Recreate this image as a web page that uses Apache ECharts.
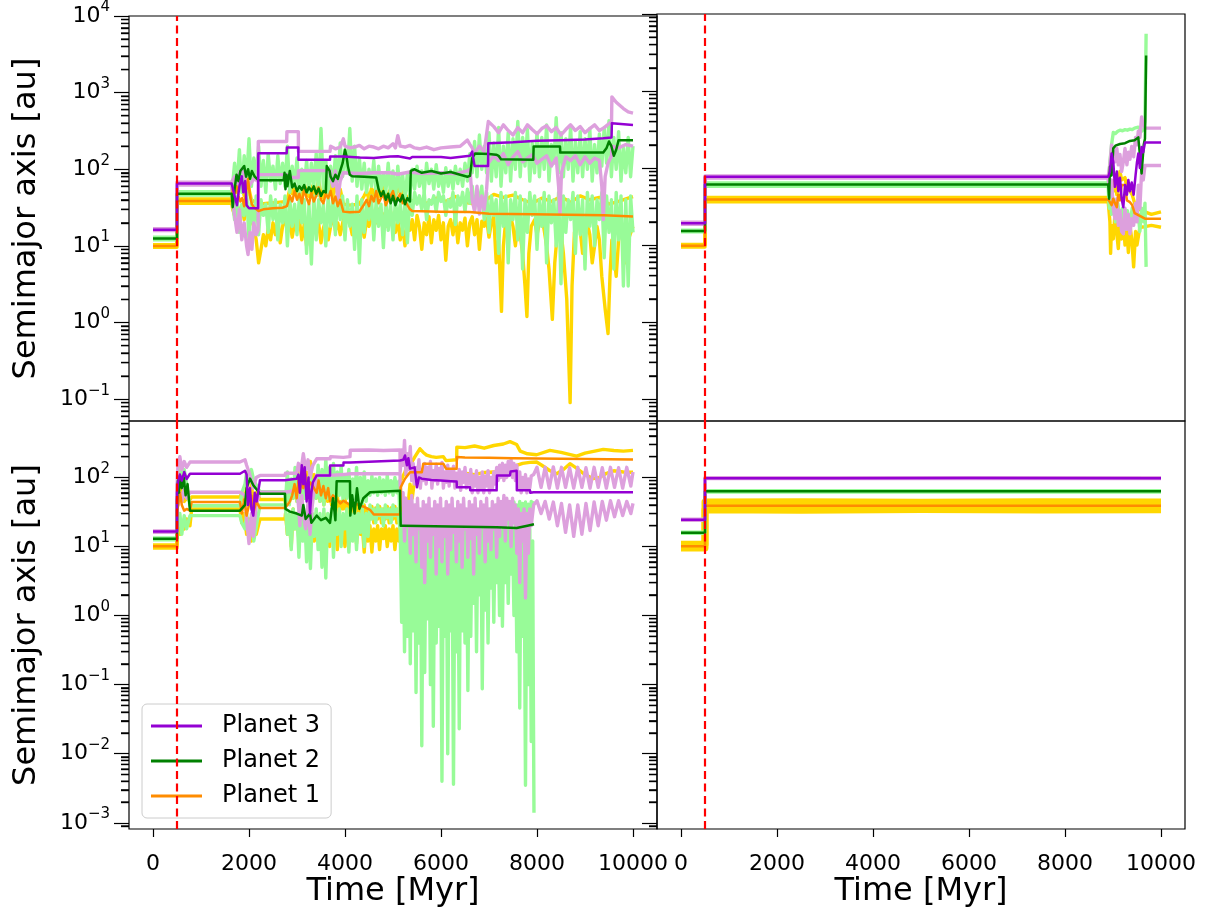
<!DOCTYPE html>
<html><head><meta charset="utf-8">
<script src="https://cdn.jsdelivr.net/npm/echarts@6/dist/echarts.min.js"></script>
<style>html,body{margin:0;padding:0;background:#fff}#c{width:1207px;height:912px}</style>
</head><body><div id="c"></div>
<script>
// ---------- tick labels / texts ----------
const X_TICKS = [0, 2000, 4000, 6000, 8000, 10000];
const Y_EXP_TOP = [-1, 0, 1, 2, 3, 4];
const Y_EXP_BOTTOM = [-3, -2, -1, 0, 1, 2];
const MINOR_MANTISSAS = [2, 3, 4, 5, 6, 7, 8, 9];
const LEGEND_NAMES = ['Planet 3', 'Planet 2', 'Planet 1'];
const Y_TITLE = 'Semimajor axis [au]';
const X_TITLE = 'Time [Myr]';
const EPOCH_MARK = 500;

// Data: [time Myr, value au]. Densely sampled stretches are given as
// {start, step, values}: outputs every `step` Myr from `start`.

// ---------- TOP-LEFT panel ----------
const TL_P3_A = [[0,16.3],[500,16.3],[500,65],[1640,65],[1650,62],[1700,45],[1750,34],[1800,60],[1850,81],[1880,50],[1920,70],[1950,34],[2000,31],[2100,31],[2190,31],[2194,162],[2785,162],[2790,192],[3028,192],[3030,133],[3688,133],[3690,147],[3966,147],[3970,140],[4300,142],[4600,140],[4937,147],[5100,148],[5354,138],[5400,145],[6000,145],[6200,140],[6604,150],[6650,170],[6700,110],[6980,110],[6986,219],[7500,225],[8000,235],[8500,240],[9000,245],[9380,254],[9553,260],[9560,398],[10000,378]];
const TL_P3_APO = [[0,16.8],[500,16.8],[500,68],[1640,68],[1700,80],[1750,60],[1800,90],[1850,100],[1900,85],[1950,70],[2000,60],[2100,75],[2190,70],[2194,230],[2785,230],[2790,310],[3028,310],[3030,171],[3688,171],[3700,200],[3800,185],[3900,195],[3966,250],[4000,200],[4100,190],[4200,195],[4300,205],[4400,185],[4500,200],[4600,195],[4700,185],[4800,200],[4900,190],[5000,215],[5050,190],[5100,275],[5150,200],[5250,195],[5350,205],[5450,190],[5550,185],[5700,195],[5850,180],[6000,190],[6200,195],[6400,200],[6550,240],[6604,210],[6650,190],[6700,160],[6800,200],[6900,170],[6986,420],[7100,360],[7200,300],[7300,380],[7400,320],[7500,280],[7600,350],[7700,300],[7800,380],[7900,330],[8000,290],[8100,340],[8200,370],[8300,310],[8400,350],[8500,280],[8600,330],[8700,380],[8800,320],[8900,360],[9000,300],[9100,340],[9200,380],[9300,320],[9400,350],[9553,420],[9560,880],[9650,750],[9800,620],[9900,560],[10000,540]];
const TL_P3_PERI = [[0,15.8],[500,15.8],[500,62],[1640,62],[1660,40],[1700,25],[1750,15],[1800,30],[1850,12],[1900,20],[1950,10],[1980,7.7],[2020,15],[2060,9],[2100,20],[2150,14],[2190,16],[2194,85],[2785,85],[2790,78],[3028,78],[3030,96],[3688,96],[3700,80],[3750,60],[3800,95],[3850,40],[3900,70],[3966,90],[4300,88],[4600,90],[4937,90],[5100,86],[5354,92],[5600,88],[6000,90],[6300,87],[6550,95],[6604,100],[6650,40],[6700,28],[6750,60],[6800,26],[6850,45],[6900,30],[6950,55],[6986,120],[7100,150],[7200,130],[7300,160],[7400,115],[7500,145],[7600,170],[7700,125],[7800,140],[7900,155],[8000,120],[8100,135],[8200,150],[8300,110],[8400,140],[8450,60],[8479,26],[8510,90],[8600,145],[8700,130],[8800,150],[8900,115],[9000,145],[9100,120],[9200,140],[9300,130],[9350,60],[9380,22],[9420,80],[9480,120],[9553,150],[9560,200],[9700,190],[9850,210],[10000,200]];
const TL_P2_A = [[0,12.5],[500,12.5],[500,48],[1640,48],[1660,32],[1700,55],[1740,85],[1780,70],[1820,95],[1860,90],[1900,110],[1940,80],[1980,100],[2020,75],[2060,95],[2120,80],[2194,72],[2723,72],[2740,90],[2760,55],[2780,85],[2800,60],[2850,95],[2900,58],[2950,65],[3000,52],[3050,60],[3100,54],[3150,62],[3200,50],[3250,58],[3300,52],[3350,60],[3400,48],[3450,56],[3500,45],[3550,52],[3600,50],[3620,110],[3680,95],[3700,80],[3750,70],[3800,85],[3850,75],[3900,95],[3950,120],[4000,180],[4030,150],[4060,110],[4100,85],[4150,81],[4400,80],[4650,78],[4700,55],[4750,45],[4800,52],[4850,40],[4900,48],[4950,36],[5000,45],[5050,34],[5100,42],[5150,38],[5200,46],[5250,35],[5300,42],[5354,38],[5370,95],[5450,100],[5600,90],[5800,95],[6000,88],[6200,92],[6400,85],[6550,80],[6604,82],[6650,140],[6708,160],[7000,158],[7150,155],[7200,150],[7250,135],[7923,133],[7930,198],[8479,198],[8485,165],[9380,165],[9450,190],[9500,230],[9550,200],[9600,150],[9650,180],[9700,240],[10000,240]];
const TL_P2_APO_HEAD = [[0,13],[500,13],[500,51],[1640,51]];
const TL_P2_APO_DENSE = {start:1650, step:50, values:[
  55,120,60,180,50,150,70,250,60,140,80,200,
  60,130,50,160,70,110,55,150,65,120,60,200,
  50,110,60,140,45,100,55,130,50,120,60,160,45,340,55,130,50,110,
  60,150,70,220,80,180,90,340,70,200,60,140,
  55,120,50,100,60,130,45,110,55,90,50,120,45,95,40,110,50,85,40,90,45,100,
  55,110,60,95,50,120,65,100,55,115,60,90,50,105,60,95,55,110,65,100,60,120,70,160,
  90,230,80,280,100,200,90,300,70,220,80,350,60,200,90,300,70,250,100,420,80,260,110,330,70,220,90,300,80,260,100,380,70,210,
  120,470,90,300,80,250,100,360,70,230,90,310,80,250,100,340,70,210,90,290,110,350,120,430,80,260,100,310,70,190,90,260,80,200]};
const TL_P2_PERI_HEAD = [[0,12],[500,12],[500,46],[1640,46]];
const TL_P2_PERI_DENSE = {start:1650, step:50, values:[
  40,22,45,15,35,25,50,12,40,18,45,14,
  40,25,35,15,45,22,40,12,35,20,45,10,
  40,18,35,14,45,20,40,8,35,5.8,45,12,40,20,35,10,45,18,
  40,14,50,22,45,12,40,18,35,9,45,6,
  40,15,35,22,45,12,40,18,35,9.5,40,16,35,12,40,20,35,14,40,11,45,25,
  50,35,45,30,50,22,40,35,45,28,50,38,45,25,40,32,50,19,45,34,50,28,55,36,
  60,30,50,40,60,22,50,15,45,25,40,8,50,18,45,6,40,22,50,12,45,5,40,15,50,25,45,9,40,18,50,6,45,20,
  40,10,50,3.2,45,15,40,22,50,8,45,14,40,5,50,18,45,10,40,22,50,7,45,15,40,5,50,12,45,3,40,3,45,15]};
const TL_P1_A = [[0,10],[500,10],[500,38.5],[1640,38.5],[1660,55],[1700,48],[1740,60],[1780,45],[1820,38],[1860,42],[1900,33],[1940,50],[1980,75],[2020,45],[2060,35],[2100,32],[2200,28.5],[2300,30],[2500,31],[2700,31.5],[2790,33],[2850,45],[2900,38],[2950,52],[3000,40],[3050,48],[3100,36],[3150,55],[3200,42],[3250,35],[3300,50],[3350,38],[3400,45],[3450,58],[3500,40],[3550,36],[3600,48],[3650,42],[3700,52],[3750,36],[3800,44],[3850,33],[3900,40],[3966,28],[4100,27.5],[4300,28],[4400,35],[4450,40],[4500,33],[4550,45],[4600,38],[4650,52],[4700,36],[4750,42],[4800,48],[4850,34],[4900,40],[4950,45],[5000,52],[5050,38],[5100,42],[5150,48],[5200,36],[5250,40],[5300,34],[5354,30],[5400,28.5],[6000,28],[6600,27.6],[7000,26.3],[7900,25.8],[9400,25.2],[10000,24.2]];
const TL_P1_APO = [[0,10.4],[500,10.4],[500,41],[1640,41],[1700,70],[1750,50],[1800,85],[1850,60],[1900,45],[1950,90],[2000,55],[2050,40],[2100,38],[2200,35],[2400,36],[2600,37],[2790,38],[2850,55],[2900,48],[2950,62],[3000,45],[3050,58],[3100,42],[3150,66],[3200,50],[3250,44],[3300,60],[3350,46],[3400,55],[3450,70],[3500,48],[3550,42],[3600,58],[3650,50],[3700,65],[3750,44],[3800,85],[3850,40],[3900,55],[3966,35],[4100,34],[4300,35],[4400,45],[4450,52],[4500,40],[4550,56],[4600,46],[4650,62],[4700,44],[4750,50],[4800,58],[4850,42],[4900,48],[4950,55],[5000,64],[5050,46],[5100,52],[5150,60],[5200,44],[5250,48],[5300,42],[5354,38],[5500,40],[5700,36],[5900,42],[6100,38],[6300,44],[6500,37],[6700,35],[6900,38],[7100,47],[7300,43],[7500,46],[7700,40],[7900,36],[8100,42],[8300,38],[8500,44],[8700,37],[8900,45],[9100,40],[9300,43],[9500,35],[9700,38],[9900,42],[10000,44]];
const TL_P1_PERI = [[0,9.6],[500,9.6],[500,36],[1640,36],[1660,30],[1700,25],[1750,35],[1800,28],[1850,32],[1900,22],[1950,30],[2000,26],[2050,22],[2100,18],[2150,12],[2200,6],[2250,9],[2300,14],[2350,10],[2400,17],[2450,12],[2500,20],[2550,14],[2600,22],[2650,11],[2700,18],[2750,24],[2800,15],[2850,21],[2900,13],[2950,20],[3000,16],[3050,22],[3100,12],[3150,19],[3200,10],[3250,17],[3300,22],[3350,15],[3400,25],[3450,20],[3500,11],[3550,17],[3600,22],[3650,12],[3700,18],[3750,25],[3800,16],[3850,20],[3900,14],[3966,22],[4000,18],[4050,26],[4100,20],[4150,14],[4200,22],[4250,18],[4300,25],[4350,19],[4400,13],[4450,22],[4500,18],[4550,24],[4600,28],[4650,20],[4700,30],[4750,22],[4800,26],[4850,18],[4900,24],[4950,28],[5000,20],[5050,15],[5100,22],[5150,12],[5200,18],[5250,10],[5300,20],[5354,16],[5400,22],[5450,12],[5500,25],[5550,18],[5600,9],[5650,20],[5700,14],[5750,24],[5800,11],[5850,22],[5900,16],[5950,25],[6000,12],[6050,20],[6100,6.5],[6150,18],[6200,22],[6250,14],[6300,25],[6350,11],[6400,20],[6450,16],[6500,23],[6550,10],[6600,20],[6650,24],[6700,14],[6750,22],[6800,9],[6850,21],[6900,18],[6950,23],[7000,13],[7050,20],[7100,24],[7150,6],[7200,12],[7260,1.4],[7300,10],[7350,22],[7400,15],[7450,24],[7500,18],[7550,10],[7600,20],[7650,14],[7700,8],[7750,3],[7790,1.2],[7830,8],[7880,18],[7950,22],[8000,14],[8050,20],[8100,24],[8150,16],[8200,10],[8250,5],[8320,1.1],[8370,6],[8420,14],[8480,20],[8550,8],[8620,2],[8690,0.09],[8730,3],[8780,15],[8850,22],[8900,16],[8950,8],[9000,12],[9050,20],[9100,14],[9150,6],[9200,10],[9250,18],[9300,12],[9350,4],[9420,1.5],[9480,0.72],[9520,4],[9560,12],[9600,8],[9650,4],[9700,12],[9750,20],[9800,14],[9850,6],[9900,12],[10000,18]];

// ---------- TOP-RIGHT panel ----------
const TR_P3_A = [[0,19.2],[500,19.2],[500,77],[8900,77],[8936,90],[8970,154],[9006,120],[9040,57],[9080,90],[9110,50],[9145,75],[9180,40],[9215,31],[9250,60],[9290,45],[9320,70],[9353,50],[9390,65],[9430,45],[9470,80],[9500,120],[9527,154],[9560,100],[9596,188],[9630,160],[9666,215],[10000,215]];
const TR_P3_APO = [[0,19.8],[500,19.8],[500,79],[8900,79],[8936,110],[8970,200],[9006,160],[9040,120],[9080,180],[9110,110],[9145,150],[9180,90],[9215,120],[9250,180],[9290,110],[9320,160],[9353,130],[9390,190],[9430,140],[9470,250],[9500,200],[9527,300],[9560,250],[9596,460],[9630,380],[9666,330],[10000,330]];
const TR_P3_PERI = [[0,18.6],[500,18.6],[500,74],[8900,74],[8936,45],[8970,70],[9006,30],[9040,22],[9080,40],[9110,18],[9145,28],[9180,15],[9215,14],[9250,30],[9290,16],[9320,25],[9353,14],[9390,22],[9430,18],[9470,35],[9500,20],[9527,60],[9560,30],[9596,90],[9630,70],[9666,108],[10000,108]];
const TR_P2_A = [[0,15.2],[500,15.2],[500,61],[8900,61],[8920,40],[8936,104],[8970,80],[9006,180],[9050,195],[9145,205],[9250,210],[9353,225],[9450,230],[9527,250],[9560,255],[9596,85],[9640,200],[9666,240],[9680,230],[9690,2890]];
const TR_P2_APO = [[0,15.6],[500,15.6],[500,64],[8900,64],[8936,120],[8970,200],[9006,290],[9050,280],[9100,300],[9145,310],[9200,305],[9250,315],[9300,310],[9353,320],[9400,315],[9450,330],[9527,340],[9560,342],[9596,300],[9640,320],[9666,400],[9690,5540]];
const TR_P2_PERI = [[0,14.8],[500,14.8],[500,58],[8900,58],[8920,30],[8936,50],[8970,25],[9006,40],[9050,20],[9100,35],[9145,22],[9200,30],[9250,16],[9300,28],[9353,18],[9400,30],[9450,20],[9527,25],[9560,15],[9596,30],[9640,20],[9666,35],[9690,5.2]];
const TR_P1_A = [[0,9.8],[500,9.8],[500,39],[8900,39],[8936,36],[8970,33],[9006,40],[9040,35],[9080,31],[9110,45],[9145,38],[9180,60],[9250,60],[9290,38],[9353,36],[9400,33],[9450,26],[9500,25],[9666,22],[10000,22]];
const TR_P1_APO = [[0,10.2],[500,10.2],[500,41.5],[8900,41.5],[8936,45],[8970,60],[9006,50],[9040,70],[9080,45],[9145,90],[9180,70],[9250,75],[9290,55],[9353,50],[9400,45],[9450,35],[9500,30],[9596,28],[9666,27],[9800,25],[10000,27]];
const TR_P1_PERI = [[0,9.4],[500,9.4],[500,36.5],[8900,36.5],[8936,20],[8950,7.8],[8970,18],[9006,12],[9040,25],[9080,14],[9110,9],[9145,20],[9180,12],[9215,22],[9250,10],[9290,15],[9320,8],[9353,18],[9390,12],[9430,5.2],[9470,15],[9500,10],[9560,17],[9666,17.3],[9800,18],[10000,17]];

// ---------- BOTTOM-LEFT panel ----------
const BL_P3_A = [[0,16.5],[500,16.5],[500,60],[520,85],[560,110],[600,90],[650,120],[700,95],[770,113],[1812,113],[1850,120],[1917,125],[1950,110],[1980,40],[2020,70],[2050,35],[2090,28],[2120,60],[2160,45],[2229,91],[2750,91],[2760,96],[2993,96],[3030,110],[3060,60],[3100,150],[3130,80],[3160,140],[3200,45],[3240,100],[3271,30],[3300,60],[3330,85],[3410,107],[3688,107],[3690,149],[3966,149],[3970,165],[4104,165],[4110,176],[5146,176],[5215,180],[5250,208],[5290,150],[5320,190],[5354,134],[5450,140],[5500,72],[5540,100],[5600,96],[5800,92],[6000,90],[6200,88],[6326,87],[6330,72],[6604,72],[6610,65],[7159,65],[7165,107],[7437,107],[7450,122],[7576,125],[7580,65],[7854,65],[7860,60],[7930,61],[10000,61]];
const BL_P3_APO_HEAD = [[0,16.8],[500,16.8],[500,70],[520,150],[560,200],[600,130],[650,170],[700,140],[770,167],[1812,167],[1850,175],[1917,180],[1950,150],[2000,120],[2050,90],[2090,70],[2150,100],[2229,107],[2750,107],[2760,115],[2993,115],[3030,160],[3080,120],[3132,220],[3180,130],[3230,180],[3271,100],[3330,150],[3410,186],[3688,186],[3700,200],[3966,195],[4104,200],[4110,247],[4500,250],[4800,245],[5146,250]];
const BL_P3_APO_DENSE = {start:5150, step:30, values:[
  120,250,150,344,110,220,130,280,90,160,80,140,100,180,70,130,90,160,80,140,100,170,70,125,90,155,80,135,95,165,70,120,
  85,150,75,130,90,145,70,115,80,130,65,120,85,140,70,110,80,130,60,105,75,125,60,100,70,120,60,105,75,125,60,100,
  70,120,80,140,90,150,100,160,90,150,100,170,110,180,100,160,90,150,70,120,60,100,70,110,60,95,70,105]};
const BL_P3_APO_TAIL = [[7930,110],[8000,140],[8085,72],[8170,140],[8255,70],[8340,142],[8425,70],[8510,140],[8595,72],[8680,138],[8765,70],[8850,140],[8935,72],[9020,138],[9105,70],[9190,140],[9275,72],[9360,138],[9445,70],[9530,140],[9615,72],[9700,138],[9785,70],[9870,140],[9955,75],[10000,120]];
const BL_P3_PERI_HEAD = [[0,16.1],[500,16.1],[500,50],[520,40],[560,60],[600,45],[650,70],[700,50],[770,61],[1812,61],[1850,58],[1917,55],[1950,25],[2000,11],[2050,30],[2090,14],[2150,40],[2229,61],[2750,61],[2760,65],[2993,65],[3030,40],[3060,20],[3100,55],[3132,30],[3180,18],[3230,45],[3271,15],[3330,50],[3410,107],[3688,107],[3690,110],[3966,110],[4104,113],[5146,113]];
const BL_P3_PERI_DENSE = {start:5150, step:30, values:[
  80,40,60,12,50,20,45,8,55,15,40,6,50,18,35,5,45,3,40,12,50,7,35,15,45,4,40,10,50,6,35,14,
  45,4,40,9,50,16,35,6,45,12,40,5,50,18,35,7,45,13,40,4,50,15,35,8,45,20,40,6,50,12,35,9,
  45,18,40,7,50,14,45,20,55,12,50,25,45,10,50,22,40,8,35,3,30,12,35,1.8,30,8,35,20]};
const BL_P3_PERI_TAIL = [[7930,40],[8000,46],[8085,30],[8170,45],[8255,25],[8340,44],[8425,20],[8510,42],[8595,16],[8680,40],[8765,14],[8850,40],[8935,15],[9020,42],[9105,17],[9190,44],[9275,20],[9360,45],[9445,24],[9530,46],[9615,27],[9700,46],[9785,28],[9870,45],[9955,30],[10000,42]];
const BL_P2_A = [[0,12.9],[500,12.9],[500,45],[520,90],[540,60],[562,107],[600,70],[640,100],[680,55],[720,80],[770,33],[1812,33],[1850,35],[1917,40],[1950,70],[2021,96],[2090,77],[2229,58],[2750,58],[2760,35],[2854,32],[2993,30],[3100,28],[3132,40],[3180,25],[3271,30],[3300,22],[3410,28],[3500,24],[3600,26],[3688,22],[3750,50],[3800,24],[3826,88],[4104,88],[4110,28],[4150,55],[4200,30],[4250,70],[4300,35],[4382,50],[4521,61],[5146,64],[5160,20],[5215,20],[7159,19],[7576,18.5],[7650,19],[7800,20],[7937,21]];
const BL_P2_APO_HEAD = [[0,13.3],[500,13.3],[500,50],[520,110],[560,150],[600,90],[650,130],[700,80],[770,39],[1812,39],[1850,60],[1917,80],[1950,119],[2000,100],[2050,130],[2100,90],[2229,62],[2750,62]];
const BL_P2_APO_DENSE1 = {start:2760, step:40, values:[
  45,120,40,95,50,140,45,110,40,130,50,100,45,125,40,90,50,150,45,130,40,186,50,140,45,160,50,120,55,149,
  45,110,50,130,45,95,50,140,45,100,40,120,45,90,55,105,60,95,55,100,60,92,55,107,60,90,55,100,60,88]};
const BL_P2_APO_DENSE2 = {start:5150, step:30, values:[
  18,30,20,38,17,28,21,35,18,32,20,40,17,27,19,33,18,30,21,36,17,28,20,34,18,31,22,39,17,27,20,35,
  18,30,21,37,17,28,19,32,18,30,20,36,17,27,21,34,18,31,20,38,17,28,19,33,18,30,21,36,17,28,20,35,
  18,31,22,40,17,29,20,34,18,30,21,45,19,38,22,44,20,40,22,45,19,42,21,44,20,41,22,45]};
const BL_P2_APO_TAIL = [[7910,42],[7937,45]];
const BL_P2_PERI_HEAD = [[0,12.5],[500,12.5],[500,35],[520,20],[560,30],[600,15],[650,28],[700,18],[770,28],[1812,28],[1850,22],[1917,18],[1950,30],[2000,14],[2050,25],[2100,12],[2229,40],[2750,40]];
const BL_P2_PERI_DENSE1 = {start:2760, step:40, values:[
  35,15,30,9,35,18,30,7,35,12,30,6,35,4.8,30,14,35,9,30,5,35,3.5,30,12,35,7,30,15,35,10,
  30,18,35,8.3,30,12,35,9,30,16,35,10,30,14,40,25,35,22,40,28,35,20,40,26,35,22,40,28,35,24]};
const BL_P2_PERI_DENSE2 = {start:5150, step:30, values:[
  18,0.8,20,0.3,17,0.5,19,0.2,20,0.6,18,0.077,19,0.4,17,0.013,20,0.15,18,0.9,19,0.1,17,0.025,20,0.4,18,0.7,19,0.004,17,0.5,
  20,0.01,18,0.6,19,0.0036,17,0.3,20,0.023,18,0.6,19,0.4,17,0.082,20,0.5,18,1.5,19,0.3,17,2,20,0.087,18,1.2,19,0.4,17,2.5,
  20,0.8,18,3,19,1,17,0.7,20,3,18,1.5,19,4,17,1,20,0.3,18,0.046,19,0.5,17,0.0035,20,0.1,18,0.015]};
const BL_P2_PERI_TAIL = [[7910,12],[7925,0.05],[7937,0.0014]];
const BL_P1_A = [[0,10.1],[500,10.1],[500,33],[520,38],[562,60],[600,40],[650,33],[700,35],[770,33],[806,44],[1812,44],[1850,30],[1900,48],[1950,28],[2000,40],[2050,55],[2090,30],[2150,45],[2229,36],[2750,36],[2800,40],[2854,45],[2900,55],[2950,80],[2993,50],[3030,90],[3060,60],[3100,100],[3132,70],[3180,110],[3230,65],[3271,85],[3330,75],[3410,60],[3450,90],[3500,55],[3550,75],[3600,50],[3650,70],[3688,45],[3750,55],[3826,48],[3900,42],[3966,46],[4104,40],[4200,42],[4382,38],[4450,36],[4521,34],[4600,29],[5146,29],[5160,72],[5250,96],[5354,119],[5600,119],[5631,158],[6048,158],[6104,134],[6326,134],[6330,197],[6500,195],[7000,193],[7500,190],[8000,188],[8500,186],[9000,185],[9500,183],[10000,182]];
const BL_P1_APO_HEAD = [[0,10.5],[500,10.5],[500,40],[520,50],[562,80],[600,55],[650,45],[700,50],[770,48],[806,52],[1812,52],[1850,60],[1900,45],[1950,70],[2000,50],[2050,80],[2090,45],[2150,60],[2229,48],[2750,48]];
const BL_P1_APO_DENSE = {start:2760, step:40, values:[
  40,60,45,80,50,100,45,130,55,150,50,120,45,170,55,110,50,90,45,77,40,70,45,75,40,60,35,55,30,45,
  35,50,30,40,28,38,30,42,28,36,30,40,25,35,25,38,22,36,25,38,22,35,25,38,22,36,25,38,22,35]};
const BL_P1_APO_TAIL = [[5146,38],[5160,90],[5250,120],[5300,160],[5354,150],[5458,200],[5562,260],[5631,230],[5700,210],[5800,200],[5900,195],[6048,200],[6104,175],[6326,180],[6330,275],[6500,270],[6700,285],[6900,265],[7100,290],[7300,305],[7437,330],[7576,300],[7650,240],[7800,220],[7992,213],[8270,246],[8500,230],[8826,204],[9000,225],[9381,255],[9600,245],[9800,240],[10000,246]];
const BL_P1_PERI_HEAD = [[0,9.5],[500,9.5],[500,25],[520,20],[562,15],[600,22],[650,18],[700,25],[770,20],[806,35],[1812,35],[1850,22],[1900,30],[1950,15],[2000,25],[2050,12],[2090,20],[2150,15],[2229,25],[2750,25]];
const BL_P1_PERI_DENSE = {start:2760, step:40, values:[
  30,15,25,10,35,18,30,12,35,20,25,11,30,16,25,12,30,14,25,8,30,12,25,10,28,15,25,9,22,14,
  20,10,25,12,22,15,20,11,24,15,20,8.3,22,12,20,8.3,18,12,20,9,18,13,20,10,18,12,20,9,18,12]};
const BL_P1_PERI_TAIL = [[5146,14],[5160,40],[5200,20],[5250,50],[5300,30],[5354,80],[5400,50],[5458,100],[5562,95],[5631,110],[5700,100],[5800,105],[6048,100],[6104,90],[6326,95],[6330,113],[6500,115],[6700,110],[6900,118],[7100,120],[7300,115],[7437,122],[7576,150],[7700,160],[7850,165],[7992,167],[8100,150],[8270,125],[8409,113],[8550,130],[8687,158],[8800,140],[9000,110],[9173,96],[9300,100],[9450,115],[9600,125],[9800,120],[10000,119]];

// ---------- BOTTOM-RIGHT panel ----------
const BR_P3_A = [[0,24.4],[500,24.4],[500,97.7],[3000,97.5],[6000,97.8],[10000,97.6]];
const BR_P3_APO = [[0,24.9],[500,24.9],[500,99.5],[10000,99.5]];
const BR_P3_PERI = [[0,23.9],[500,23.9],[500,96],[10000,96]];
const BR_P2_A = [[0,15.8],[500,15.8],[500,63],[10000,63]];
const BR_P2_APO = [[0,16.1],[500,16.1],[500,64.5],[10000,64.5]];
const BR_P2_PERI = [[0,15.5],[500,15.5],[500,61.5],[10000,61.5]];
const BR_P1_A = [[0,10.1],[500,10.1],[500,39],[10000,39]];
const BR_P1_APO = [[0,10.8],[500,10.8],[500,44],[2500,44.5],[5000,43.8],[7500,44.3],[10000,44]];
const BR_P1_PERI = [[0,9.5],[500,9.5],[500,34],[2500,33.6],[5000,34.2],[7500,33.8],[10000,34]];

// ---------- assembly ----------
const expand = seg => seg.values.map((v, i) => [seg.start + i * seg.step, v]);
const join = (...parts) => [].concat(...parts.map(p => Array.isArray(p) ? p : expand(p)));

const FONT = 'DejaVu Sans';
const C = {p3:'#9400D3', p3l:'#DDA0DD', p2:'#008000', p2l:'#98FB98', p1:'#FF8C00', p1l:'#FFD700'};
const X_MIN = -500, X_MAX = 10500;
const TICK_W = 1.2;

const PANELS = [
  {P3:[TL_P3_A, TL_P3_APO, TL_P3_PERI],
   P2:[TL_P2_A, join(TL_P2_APO_HEAD, TL_P2_APO_DENSE), join(TL_P2_PERI_HEAD, TL_P2_PERI_DENSE)],
   P1:[TL_P1_A, TL_P1_APO, TL_P1_PERI]},
  {P3:[TR_P3_A, TR_P3_APO, TR_P3_PERI], P2:[TR_P2_A, TR_P2_APO, TR_P2_PERI], P1:[TR_P1_A, TR_P1_APO, TR_P1_PERI]},
  {P3:[BL_P3_A, join(BL_P3_APO_HEAD, BL_P3_APO_DENSE, BL_P3_APO_TAIL), join(BL_P3_PERI_HEAD, BL_P3_PERI_DENSE, BL_P3_PERI_TAIL)],
   P2:[BL_P2_A, join(BL_P2_APO_HEAD, BL_P2_APO_DENSE1, BL_P2_APO_DENSE2, BL_P2_APO_TAIL), join(BL_P2_PERI_HEAD, BL_P2_PERI_DENSE1, BL_P2_PERI_DENSE2, BL_P2_PERI_TAIL)],
   P1:[BL_P1_A, join(BL_P1_APO_HEAD, BL_P1_APO_DENSE, BL_P1_APO_TAIL), join(BL_P1_PERI_HEAD, BL_P1_PERI_DENSE, BL_P1_PERI_TAIL)]},
  {P3:[BR_P3_A, BR_P3_APO, BR_P3_PERI], P2:[BR_P2_A, BR_P2_APO, BR_P2_PERI], P1:[BR_P1_A, BR_P1_APO, BR_P1_PERI], band:7}
];

const Y_RANGE = [[-1.285, 4.0], [-1.285, 4.0], [-3.09, 2.817], [-3.09, 2.817]];
// Per grid: yAxis base+0 = data axis (labels + minor ticks), base+1 = powers-of-ten ticks,
// base+2.. = one axis per mantissa k, shifted by log10(k) so that its integer ticks land on k*10^n.
const AXES_PER_GRID = 2 + MINOR_MANTISSAS.length;
const intsIn = (lo, hi) => { const out = []; for (let n = Math.ceil(lo); n <= Math.floor(hi); n++) out.push(n); return out; };
function minorTickValues(lo, hi) {
  const out = [];
  for (let n = -4; n <= 4; n++) for (const k of MINOR_MANTISSAS) {
    const v = Math.log10(k) + n;
    if (v > lo && v < hi) out.push(v);
  }
  return out;
}

const toLog = arr => arr.map(p => [p[0], Math.log10(p[1])]);
function line(name, data, gi, color, width, z) {
  return {type:'line', name, xAxisIndex:gi, yAxisIndex:gi * AXES_PER_GRID, data:toLog(data), symbol:'none', showSymbol:false,
    lineStyle:{color, width, join:'round'}, itemStyle:{color}, z, silent:true, clip:true, animation:false};
}

const LIGHT_W = 3.4, DARK_W = 2.5;
const series = [];
PANELS.forEach((p, gi) => {
  const base = gi * AXES_PER_GRID;
  const [mn] = Y_RANGE[gi];
  const bw = p.band || LIGHT_W;
  series.push(line('P1 apo', p.P1[1], gi, C.p1l, bw, 1));
  series.push(line('P1 peri', p.P1[2], gi, C.p1l, bw, 1));
  series.push(line('P2 apo', p.P2[1], gi, C.p2l, LIGHT_W, 1));
  series.push(line('P2 peri', p.P2[2], gi, C.p2l, LIGHT_W, 1));
  series.push(line('P3 apo', p.P3[1], gi, C.p3l, LIGHT_W, 1));
  series.push(line('P3 peri', p.P3[2], gi, C.p3l, LIGHT_W, 1));
  series.push(line('Planet 1', p.P1[0], gi, C.p1, DARK_W, 2));
  series.push(line('Planet 2', p.P2[0], gi, C.p2, DARK_W, 2));
  series.push(line('Planet 3', p.P3[0], gi, C.p3, DARK_W, 2));
  series.push({type:'line', name:'epoch', xAxisIndex:gi, yAxisIndex:base + 1, data:[], z:3, silent:true,
    markLine:{silent:true, symbol:['none','none'], label:{show:false}, animation:false,
      lineStyle:{color:'#ff0000', width:2.2, type:[8,4.5]}, data:[{xAxis:EPOCH_MARK}]}});
  // one invisible anchor point per shifted axis so the axis has a data extent
  MINOR_MANTISSAS.forEach((k, j) => {
    series.push({type:'line', name:'minor ' + k, xAxisIndex:gi, yAxisIndex:base + 2 + j, silent:true,
      symbol:'none', showSymbol:false, lineStyle:{width:0, opacity:0},
      data:[[X_MIN, mn - Math.log10(k)]]});
  });
});

const GRIDS = [
  {left:129, top:14, width:528, height:407},
  {left:657, top:14, width:528, height:407},
  {left:129, top:421, width:528, height:408},
  {left:657, top:421, width:528, height:408}
].map(g => Object.assign({show:true, borderColor:'#000', borderWidth:1.2, backgroundColor:'transparent'}, g));

const yAxes = [], xAxes = [];
[0,1,2,3].forEach(gi => {
  const top = gi < 2, left = gi % 2 === 0;
  const exps = top ? Y_EXP_TOP : Y_EXP_BOTTOM;
  const [mn, mx] = Y_RANGE[gi];
  yAxes.push({type:'value', gridIndex:gi, min:mn, max:mx, position:'left',
    axisLine:{show:false, onZero:false}, splitLine:{show:false},
    axisTick:{show:true, length:8, lineStyle:{color:'#000', width:TICK_W}, customValues:minorTickValues(mn, mx)},
    axisLabel:{show:left, customValues:exps, margin:19, color:'#000', fontFamily:FONT,
      formatter: v => { const n = Math.round(v); return '{b|10}{s|' + (n < 0 ? '\u2212' + (-n) : n) + '}'; },
      rich:{b:{fontSize:22, fontFamily:FONT, color:'#000', lineHeight:32}, s:{fontSize:15, fontFamily:FONT, color:'#000', verticalAlign:'top'}}},
    name: left ? Y_TITLE : '', nameLocation:'middle', nameRotate:90, nameGap:86,
    nameTextStyle:{fontSize:32, fontFamily:FONT, color:'#000'}});
  yAxes.push({type:'value', gridIndex:gi, min:mn, max:mx, position:'left',
    axisLine:{show:false, onZero:false}, splitLine:{show:false}, axisLabel:{show:false},
    axisTick:{show:true, length:15, lineStyle:{color:'#000', width:TICK_W}, customValues:exps}});
  MINOR_MANTISSAS.forEach(k => {
    const s = Math.log10(k);
    yAxes.push({type:'value', gridIndex:gi, min:mn - s, max:mx - s, position:'left',
      axisLine:{show:false, onZero:false}, splitLine:{show:false}, axisLabel:{show:false},
      axisTick:{show:true, length:8, lineStyle:{color:'#000', width:TICK_W}, customValues:intsIn(mn - s, mx - s)}});
  });
  xAxes.push({type:'value', gridIndex:gi, min:X_MIN, max:X_MAX, position:'bottom',
    axisLine:{show:false, onZero:false}, splitLine:{show:false},
    axisTick:{show:!top, length:8, lineStyle:{color:'#000', width:TICK_W}, customValues:X_TICKS},
    axisLabel:{show:!top, customValues:X_TICKS, fontSize:22, fontFamily:FONT, color:'#000', margin:24, formatter: v => String(v)},
    name: top ? '' : X_TITLE, nameLocation:'middle', nameGap:47,
    nameTextStyle:{fontSize:32, fontFamily:FONT, color:'#000'}});
});

const chart = echarts.init(document.getElementById('c'), null, {renderer:'canvas'});
chart.setOption({
  animation:false,
  backgroundColor:'#fff',
  grid:GRIDS,
  xAxis:xAxes,
  yAxis:yAxes,
  legend:{
    data:LEGEND_NAMES.map(n => ({name:n})), orient:'vertical', left:142, top:704,
    padding:[10,11,10,9], itemGap:11, itemWidth:51, itemHeight:3, icon:'rect',
    textStyle:{fontSize:24, fontFamily:FONT, color:'#000', padding:[0,0,0,15]},
    borderColor:'#cccccc', borderWidth:1, borderRadius:5, backgroundColor:'rgba(255,255,255,0.8)',
    selectedMode:false
  },
  series
});

// extra path: minor ticks as graphic lines placed through each grid's data axis
let minorDone = false;
function addMinorTicks() {
  if (minorDone) return;
  const els = [];
  [0,1,2,3].forEach(gi => {
    const [mn, mx] = Y_RANGE[gi];
    minorTickValues(mn, mx).forEach(v => {
      const p = chart.convertToPixel({xAxisIndex:gi, yAxisIndex:gi * AXES_PER_GRID}, [X_MIN, v]);
      if (!p || !isFinite(p[0]) || !isFinite(p[1])) return;
      els.push({type:'line', silent:true, z:100, shape:{x1:p[0] - 8, y1:p[1], x2:p[0], y2:p[1]},
        style:{stroke:'#000', lineWidth:TICK_W}});
    });
  });
  if (els.length) { minorDone = true; chart.setOption({graphic:{elements:els}}); }
}
chart.on('finished', addMinorTicks);
addMinorTicks();
</script>
</body></html>
